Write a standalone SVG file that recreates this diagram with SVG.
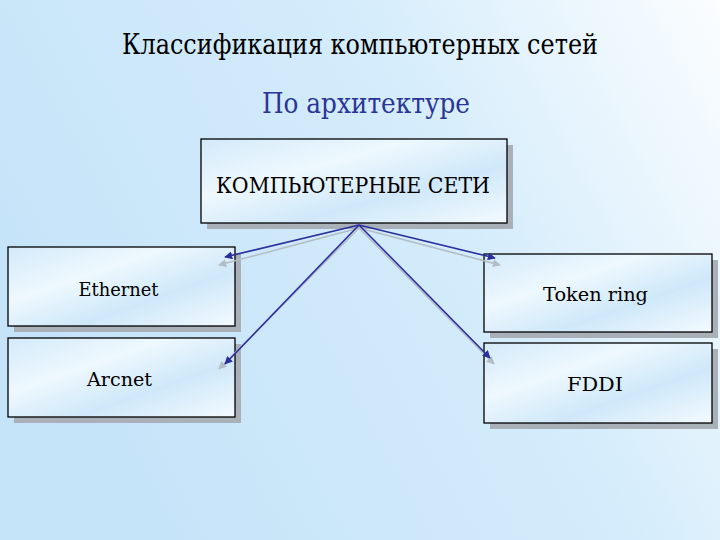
<svg xmlns="http://www.w3.org/2000/svg" width="720" height="540" viewBox="0 0 720 540">
<defs>
<linearGradient id="bg" x1="0" y1="0.4" x2="1" y2="0">
<stop offset="0" stop-color="#c6e4f9"/>
<stop offset="0.55" stop-color="#d4ecfb"/>
<stop offset="1" stop-color="#fbfdff"/>
</linearGradient>
<linearGradient id="box" x1="0" y1="0" x2="1" y2="1">
<stop offset="0" stop-color="#d3eafa"/>
<stop offset="0.35" stop-color="#eef8fe"/>
<stop offset="0.65" stop-color="#cfe8f9"/>
<stop offset="1" stop-color="#f3faff"/>
</linearGradient>
<marker id="ah" viewBox="0 0 10 10" refX="9" refY="5" markerWidth="5" markerHeight="5" orient="auto-start-reverse">
<path d="M0,0 L10,5 L0,10 z" fill="#2b2f9e"/>
</marker>
<marker id="ahg" viewBox="0 0 10 10" refX="9" refY="5" markerWidth="5" markerHeight="5" orient="auto-start-reverse">
<path d="M0,0 L10,5 L0,10 z" fill="#b4bcc4"/>
</marker>
</defs>
<style>
.shadow{fill:#a9b0b8}
.box{fill:url(#box);stroke:#000;stroke-width:1.3}
text{font-family:"DejaVu Serif",serif;text-anchor:middle;fill:#000}
.c{stroke:#2b2f9e;stroke-width:1.6;fill:none;marker-end:url(#ah)}
.cg{stroke:#b4bcc4;stroke-width:1.6;fill:none;marker-end:url(#ahg)}
</style>
<rect width="720" height="540" fill="url(#bg)"/>
<text x="360" y="54" font-size="27" textLength="476" lengthAdjust="spacingAndGlyphs">Классификация компьютерных сетей</text>
<text x="366" y="112.5" font-size="28.5" style="fill:#2a3596" textLength="208" lengthAdjust="spacingAndGlyphs">По архитектуре</text>
<g id="root">
<rect class="shadow" x="207" y="145" width="306" height="84"/>
<rect class="box" x="201" y="139" width="306" height="84"/>
<text x="353" y="193" font-size="22.5" textLength="274" lengthAdjust="spacingAndGlyphs">КОМПЬЮТЕРНЫЕ СЕТИ</text>
</g>
<g id="ethernet">
<rect class="shadow" x="14" y="253" width="227" height="79"/>
<rect class="box" x="8" y="247" width="227" height="79"/>
<text x="118.5" y="296" font-size="19" textLength="80" lengthAdjust="spacingAndGlyphs">Ethernet</text>
</g>
<g id="arcnet">
<rect class="shadow" x="14" y="344" width="227" height="79"/>
<rect class="box" x="8" y="338" width="227" height="79"/>
<text x="119.5" y="386" font-size="19" textLength="65" lengthAdjust="spacingAndGlyphs">Arcnet</text>
</g>
<g id="tokenring">
<rect class="shadow" x="490" y="260" width="228" height="78"/>
<rect class="box" x="484" y="254" width="228" height="78"/>
<text x="595.5" y="301" font-size="19" textLength="105" lengthAdjust="spacingAndGlyphs">Token ring</text>
</g>
<g id="fddi">
<rect class="shadow" x="490" y="349" width="228" height="80"/>
<rect class="box" x="484" y="343" width="228" height="80"/>
<text x="595" y="391" font-size="19" textLength="56" lengthAdjust="spacingAndGlyphs">FDDI</text>
</g>
<g id="connectors">
<line class="cg" x1="359" y1="228" x2="219" y2="265"/>
<line class="cg" x1="359" y1="228" x2="219" y2="369"/>
<line class="cg" x1="359" y1="228" x2="500" y2="265"/>
<line class="cg" x1="359" y1="228" x2="494" y2="364"/>
<line class="c" x1="359" y1="225" x2="225" y2="257"/>
<line class="c" x1="359" y1="225" x2="225" y2="364"/>
<line class="c" x1="359" y1="225" x2="495" y2="258"/>
<line class="c" x1="359" y1="225" x2="490" y2="358"/>
</g>
</svg>
